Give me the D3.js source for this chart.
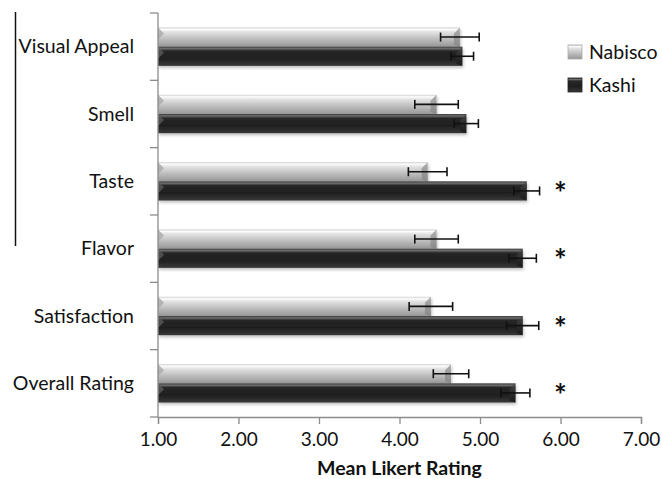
<!DOCTYPE html>
<html>
<head>
<meta charset="utf-8">
<script src="https://cdn.jsdelivr.net/npm/d3@7"></script>
<style>
  body { margin: 0; background: #fff; }
  svg { display: block; font-family: Lato, "Open Sans", sans-serif; }
</style>
</head>
<body>
<svg id="chart" width="662" height="479"></svg>
<script>
// data
const categories = ['Visual Appeal', 'Smell', 'Taste', 'Flavor', 'Satisfaction', 'Overall Rating'];
const series = ['Nabisco', 'Kashi'];
const nabiscoMeans = [4.75, 4.46, 4.35, 4.46, 4.39, 4.64];
const nabiscoErr = [0.24, 0.27, 0.24, 0.27, 0.27, 0.22];
const kashiMeans = [4.78, 4.83, 5.58, 5.53, 5.53, 5.44];
const kashiErr = [0.14, 0.15, 0.16, 0.17, 0.20, 0.18];
const significant = [false, false, true, true, true, true];
const xTicks = [1, 2, 3, 4, 5, 6, 7];

const svg = d3.select('#chart');
const margin = {left: 158, right: 21, top: 13, bottom: 62};
const W = 662, H = 479;

const x = d3.scaleLinear().domain([1, 7]).range([margin.left, W - margin.right]);
const y0 = d3.scaleBand().domain(categories)
  .range([margin.top, H - margin.bottom])
  .paddingInner(0.43).paddingOuter(0.215);
const y1 = d3.scaleBand().domain(series).range([0, y0.bandwidth()]);

const rows = [];
categories.forEach(function(c, i){
  rows.push({cat: c, s: 'Nabisco', v: nabiscoMeans[i], e: nabiscoErr[i]});
  rows.push({cat: c, s: 'Kashi', v: kashiMeans[i], e: kashiErr[i]});
});

// gradients for the shiny bars
const defs = svg.append('defs');
function grad(id, stops){
  const g = defs.append('linearGradient').attr('id', id)
    .attr('x1', 0).attr('y1', 0).attr('x2', 0).attr('y2', 1);
  stops.forEach(function(s){
    g.append('stop').attr('offset', s[0]).attr('stop-color', s[1]);
  });
}
grad('g-Nabisco', [[0, '#d0d0d0'], [0.1, '#fdfdfd'], [0.22, '#e4e4e4'], [0.6, '#bdbdbd'], [1, '#979797']]);
grad('g-Kashi', [[0, '#3a3a3a'], [0.1, '#6e6e6e'], [0.22, '#262626'], [0.6, '#1f1f1f'], [1, '#383838']]);
grad('cap-Nabisco', [[0, '#9c9c9c'], [1, '#858585']]);
grad('cap-Kashi', [[0, '#4a4a4a'], [1, '#151515']]);

const shadow = defs.append('filter').attr('id', 'shadow')
  .attr('x', '-5%').attr('y', '-20%').attr('width', '110%').attr('height', '160%');
shadow.append('feDropShadow').attr('dx', 1).attr('dy', 2).attr('stdDeviation', 1.5)
  .attr('flood-color', '#000').attr('flood-opacity', 0.25);

// odd vertical rule at the left of the figure
svg.append('line')
  .attr('x1', 15.5).attr('x2', 15.5).attr('y1', 12).attr('y2', 246)
  .attr('stroke', '#111').attr('stroke-width', 1.5);

// bars
const bars = svg.append('g').selectAll('g.bar').data(rows).join('g')
  .attr('class', 'bar')
  .attr('transform', function(d){ return 'translate(0,' + (y0(d.cat) + y1(d.s)) + ')'; });

bars.append('rect')
  .attr('x', x(1))
  .attr('y', 0)
  .attr('width', function(d){ return x(d.v) - x(1); })
  .attr('height', y1.bandwidth())
  .attr('fill', function(d){ return 'url(#g-' + d.s + ')'; })
  .attr('filter', 'url(#shadow)');

// bevelled ends
const bw = y1.bandwidth();
bars.append('path')
  .attr('d', function(d){
    const xe = x(d.v);
    return 'M' + (xe - 6) + ',' + 6 + 'L' + xe + ',0L' + xe + ',' + bw + 'L' + (xe - 6) + ',' + (bw - 2) + 'Z';
  })
  .attr('fill', function(d){ return 'url(#cap-' + d.s + ')'; })
  .attr('opacity', 0.8);
bars.append('path')
  .attr('d', function(){
    const xs = x(1);
    return 'M' + xs + ',0L' + (xs + 6) + ',' + 6 + 'L' + xs + ',' + 12 + 'Z';
  })
  .attr('fill', function(d){ return d.s === 'Nabisco' ? '#a9a9a9' : '#5a5a5a'; })
  .attr('opacity', 0.8);

// error bars
const err = bars.append('g').attr('stroke', '#111').attr('stroke-width', 1.6);
err.append('line')
  .attr('x1', function(d){ return x(d.v - d.e); })
  .attr('x2', function(d){ return x(d.v + d.e); })
  .attr('y1', bw / 2).attr('y2', bw / 2);
err.append('line')
  .attr('x1', function(d){ return x(d.v - d.e); })
  .attr('x2', function(d){ return x(d.v - d.e); })
  .attr('y1', bw / 2 - 4.5).attr('y2', bw / 2 + 4.5);
err.append('line')
  .attr('x1', function(d){ return x(d.v + d.e); })
  .attr('x2', function(d){ return x(d.v + d.e); })
  .attr('y1', bw / 2 - 4.5).attr('y2', bw / 2 + 4.5);

// significance stars
svg.append('g').selectAll('text').data(categories.filter(function(c, i){ return significant[i]; }))
  .join('text')
  .attr('x', x(6))
  .attr('y', function(c){ return y0(c) + y1('Kashi') + bw / 2 + 13; })
  .attr('text-anchor', 'middle')
  .attr('font-size', 30)
  .attr('font-weight', 'bold')
  .attr('fill', '#111')
  .text('*');

// y axis
const yAxis = svg.append('g');
yAxis.append('line')
  .attr('x1', x(1)).attr('x2', x(1))
  .attr('y1', margin.top).attr('y2', H - margin.bottom)
  .attr('stroke', '#8c8c8c').attr('stroke-width', 1.3);
const yEdges = categories.map(function(c){ return y0(c) - y0.step() * y0.paddingInner() / 2; });
yEdges.push(H - margin.bottom);
yEdges[0] = margin.top;
yAxis.selectAll('line.tick').data(yEdges).join('line')
  .attr('class', 'tick')
  .attr('x1', x(1) - 8).attr('x2', x(1))
  .attr('y1', function(d){ return d; }).attr('y2', function(d){ return d; })
  .attr('stroke', '#8c8c8c').attr('stroke-width', 1.3);
yAxis.selectAll('text').data(categories).join('text')
  .attr('x', 134)
  .attr('y', function(c){ return y0(c) + y0.bandwidth() / 2; })
  .attr('dy', '0.35em')
  .attr('text-anchor', 'end')
  .attr('font-size', 19.5)
  .attr('fill', '#111')
  .text(function(c){ return c; });

// x axis
const xAxis = svg.append('g')
  .attr('transform', 'translate(0,' + (H - margin.bottom) + ')')
  .call(d3.axisBottom(x).tickValues(xTicks).tickFormat(d3.format('.2f')).tickSize(7).tickPadding(9));
xAxis.select('.domain').attr('stroke', '#8c8c8c').attr('stroke-width', 1.3);
xAxis.selectAll('.tick line').attr('stroke', '#8c8c8c').attr('stroke-width', 1.3);
xAxis.selectAll('.tick text')
  .attr('font-family', 'Lato, "Open Sans", sans-serif')
  .attr('font-size', 19)
  .attr('fill', '#111');

svg.append('text')
  .attr('x', (x(1) + x(7)) / 2)
  .attr('y', 475)
  .attr('text-anchor', 'middle')
  .attr('font-size', 19.5)
  .attr('font-weight', 'bold')
  .attr('fill', '#111')
  .text('Mean Likert Rating');

// legend
const legend = svg.append('g').selectAll('g').data(series).join('g')
  .attr('transform', function(d, i){ return 'translate(568,' + (45 + i * 33) + ')'; });
legend.append('rect')
  .attr('width', 14).attr('height', 14)
  .attr('fill', function(d){ return 'url(#g-' + d + ')'; })
  .attr('stroke', function(d){ return d === 'Nabisco' ? '#aaa' : '#222'; })
  .attr('stroke-width', 0.8);
legend.append('text')
  .attr('x', 21).attr('y', 7).attr('dy', '0.35em')
  .attr('font-size', 19.5)
  .attr('fill', '#111')
  .text(function(d){ return d; });
</script>
</body>
</html>
